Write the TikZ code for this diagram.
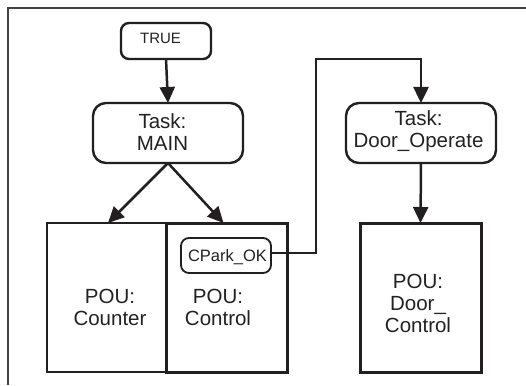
\documentclass[tikz,border=0pt]{standalone}
\usepackage{fontspec}
\setmainfont{Liberation Sans}
\usetikzlibrary{arrows.meta}
\definecolor{ink}{HTML}{231F20}
\definecolor{txt}{HTML}{222222}
\begin{document}
\begin{tikzpicture}[x=1pt,y=-1pt,
  frame/.style={draw=ink!85, line width=1.5pt},
  rbox/.style={draw=ink, line width=2.4pt, rectangle, rounded corners=#1, inner sep=0pt, outer sep=0pt},
  rbox/.default=12pt,
  pbox/.style={draw=ink, line width=3pt, rectangle, inner sep=0pt, outer sep=0pt},
  lbl/.style={text=txt, anchor=base, inner sep=0pt, align=center, font=\fontsize{20.5}{22}\selectfont},
  conn/.style={draw=ink, line width=2.5pt},
  arr/.style={conn, -{Triangle[length=16pt,width=15pt]}}
]
\useasboundingbox (0,0) rectangle (526,385);
\fill[white] (0,0) rectangle (526,385);
\draw[frame] (8,385) -- (8,8) -- (526,8);

% boxes
\node[rbox=8pt, minimum width=90pt, minimum height=36pt] (true) at (166,41) {};
\node[rbox=13pt, minimum width=150pt, minimum height=60pt] (main) at (168,133) {};
\node[rbox=13pt, minimum width=150pt, minimum height=60pt] (doorop) at (421,133) {};
\node[pbox, line width=2.6pt, minimum width=119pt, minimum height=149pt] (counter) at (106.5,297.5) {};
\node[pbox, minimum width=121pt, minimum height=149pt] (control) at (226.5,297.5) {};
\node[pbox, minimum width=121pt, minimum height=149pt] (doorctl) at (420.5,297.5) {};
\node[rbox=8pt, line width=1.8pt, minimum width=90pt, minimum height=35pt] (cpark) at (226,255.5) {};

% texts (base anchor = baseline of last line)
\node[lbl, font=\fontsize{15}{17}\selectfont] (ttrue) at (160.5,44) {TRUE};
\node[lbl] (tmain) at (162.5,150) {Task:\\MAIN};
\node[lbl] (tdoorop) at (418.5,147) {Task:\\Door\_Operate};
\node[lbl] (tcounter) at (110,325) {POU:\\Counter};
\node[lbl] (tcontrol) at (218,325) {POU:\\Control};
\node[lbl] (tdoorctl) at (418,332) {POU:\\Door\_\\Control};
\node[lbl, font=\fontsize{16.5}{18}\selectfont] (tcpark) at (227.5,261.5) {CPark\_OK};

% connectors
\coordinate (j1) at (316,59);
\draw[arr] (true.south) -- (main.north);
\draw[arr] (main.south) -- ([xshift=1.5pt]counter.north);
\draw[arr] (main.south) -- ([xshift=-3pt]control.north);
\draw[arr] ([yshift=2.5pt]cpark.east) -| (j1) -| (doorop.north);
\draw[arr] (doorop.south) -- (doorctl.north);
\end{tikzpicture}
\end{document}
